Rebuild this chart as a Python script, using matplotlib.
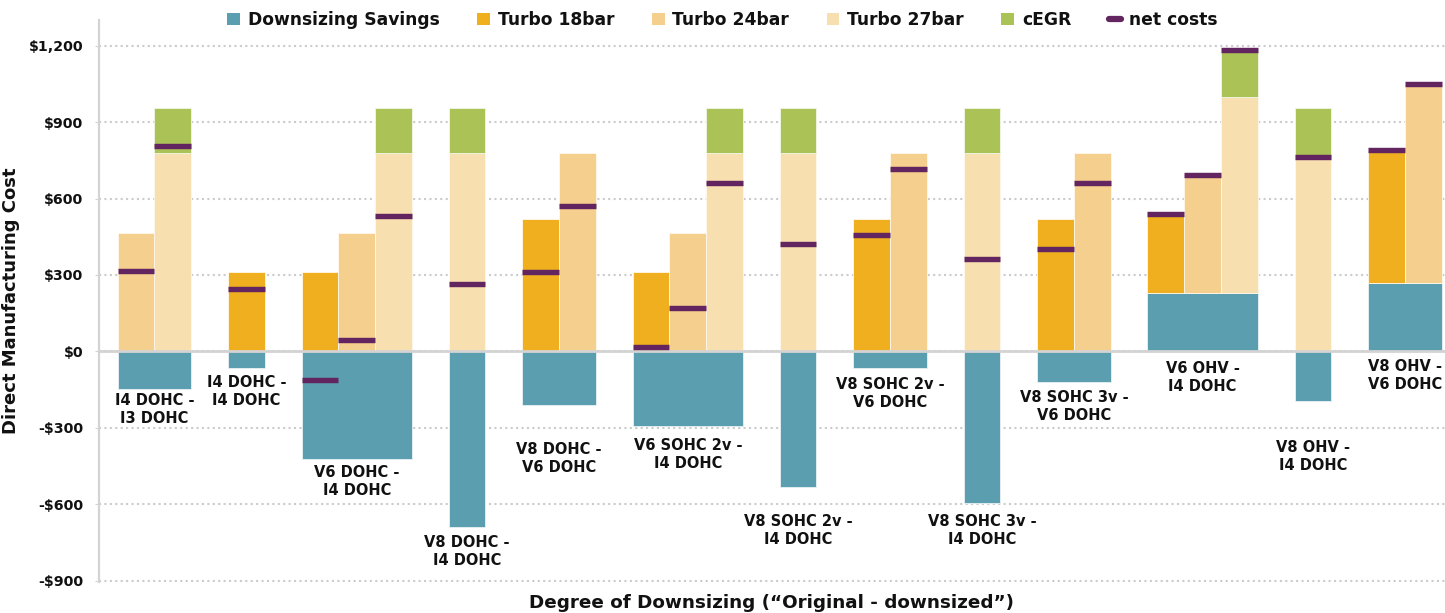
import matplotlib
matplotlib.use("Agg")
import matplotlib.pyplot as plt
from matplotlib.patches import Patch
from matplotlib.lines import Line2D
from matplotlib.ticker import FuncFormatter

# ---------------- data ----------------
groups = ["I4 DOHC -\nI3 DOHC", "I4 DOHC -\nI4 DOHC", "V6 DOHC -\nI4 DOHC",
          "V8 DOHC -\nI4 DOHC", "V8 DOHC -\nV6 DOHC", "V6 SOHC 2v -\nI4 DOHC",
          "V8 SOHC 2v -\nI4 DOHC", "V8 SOHC 2v -\nV6 DOHC", "V8 SOHC 3v -\nI4 DOHC",
          "V8 SOHC 3v -\nV6 DOHC", "V6 OHV -\nI4 DOHC", "V8 OHV -\nI4 DOHC",
          "V8 OHV -\nV6 DOHC"]
savings = [-149, -66, -421, -688, -210, -293, -531, -65, -594, -121, 228, -195, 267]
turbo18 = [None, 310, 310, None, 520, 310, None, 520, None, 520, 310, None, 520]
turbo24 = [465, None, 465, None, 780, 465, None, 780, None, 780, 465, None, 780]
turbo27 = [777, None, 777, 777, None, 777, 777, None, 777, None, 772, 756, None]
cegr = [177, None, 177, 177, None, 177, 177, None, 177, None, 180, 198, None]
net_costs = [[316, 805], [245], [-114, 45, 533], [266], [310, 572],
             [17, 172, 660], [421], [458, 718], [364], [402, 663],
             [538, 694, 1182], [765], [790, 1048]]
label_y = [-229, -158, -509, -787, -422, -405, -702, -165, -702, -216, -101, -414, -96]

series_names = ["Downsizing Savings", "Turbo 18bar", "Turbo 24bar", "Turbo 27bar",
                "cEGR", "net costs"]
yticks = [-900, -600, -300, 0, 300, 600, 900, 1200]

# ---------------- style ----------------
C_SAV = "#5B9EAF"
C_18 = "#EFAF1F"
C_24 = "#F5CF8E"
C_27 = "#F8DFB0"
C_EGR = "#ABC256"
C_NET = "#62255F"
GRID = "#CBCBCB"
AXC = "#D3D3D3"

plt.rcParams['font.family'] = ['DejaVu Sans']
plt.rcParams['font.weight'] = 'bold'

fig = plt.figure(figsize=(14.45, 6.13), dpi=100)
ax = fig.add_axes([98.5 / 1445, 0.0506, 1 - 98.5 / 1445, 0.967 - 0.0506])

slot = 0
for i, g in enumerate(groups):
    bars = [(v, c) for v, c in ((turbo18[i], C_18), (turbo24[i], C_24), (turbo27[i], C_27))
            if v is not None]
    n = len(bars)
    base = max(savings[i], 0)
    ax.bar(slot - 0.5, savings[i], width=n, align='edge', color=C_SAV,
           edgecolor='#EAF3F5', linewidth=0.6, zorder=2)
    for k, (v, c) in enumerate(bars):
        x = slot + k
        ax.bar(x, v, bottom=base, width=1, color=c, edgecolor='#FFF8EC',
               linewidth=0.6, zorder=2)
        if c == C_27 and cegr[i] is not None:
            ax.bar(x, cegr[i], bottom=base + v, width=1, color=C_EGR,
                   edgecolor='#F2F6E6', linewidth=0.6, zorder=2)
        ax.plot([x - 0.5, x + 0.5], [net_costs[i][k]] * 2, color=C_NET, lw=3.9,
                solid_capstyle='butt', zorder=4)
    ax.text(slot + (n - 1) / 2, label_y[i], g, ha='center', va='center',
            fontsize=10.5, fontweight='bold', color='#111111', linespacing=1.25,
            zorder=5)
    slot += n + 1

ax.axhline(0, color=AXC, lw=2.0, zorder=3)
ax.set_xlim(-1.022, 35.59)
ax.set_ylim(-905, 1300)
ax.set_yticks(yticks)
ax.yaxis.set_major_formatter(FuncFormatter(
    lambda v, p: ("-$" if v < 0 else "$") + f"{abs(int(v)):,}"))
ax.set_xticks([])
ax.grid(axis='y', color=GRID, lw=1.5, linestyle=(0, (1, 1.6)), zorder=0)
ax.set_axisbelow(True)
for s in ['top', 'right', 'bottom']:
    ax.spines[s].set_visible(False)
ax.spines['left'].set_color(AXC)
ax.spines['left'].set_linewidth(1.6)
ax.tick_params(axis='y', length=3, color=AXC, pad=8, labelsize=10.2, labelcolor='#111111')
for lab in ax.get_yticklabels():
    lab.set_fontweight('bold')

ax.set_ylabel("Direct Manufacturing Cost", fontsize=13, fontweight='bold', color='#111111')
ax.yaxis.set_label_coords(-78.5 / (1445 - 98.5), 0.5)
ax.set_xlabel("Degree of Downsizing (“Original - downsized”)", fontsize=13.2,
              fontweight='bold', color='#111111')
ax.xaxis.label.set_va('center')
ax.xaxis.set_label_coords(0.5, -(603 - 582) / (582 - 20.2))

handles = [Patch(facecolor=C_SAV), Patch(facecolor=C_18), Patch(facecolor=C_24),
           Patch(facecolor=C_27), Patch(facecolor=C_EGR),
           Line2D([0], [0], color=C_NET, lw=4.5, solid_capstyle='round')]
fig.legend(handles, series_names, loc='center', bbox_to_anchor=(0.5, 1 - 20 / 613),
           ncol=6, frameon=False, prop={'weight': 'bold', 'size': 12.3},
           labelcolor='#111111',
           handlelength=0.75, handleheight=0.75, handletextpad=0.45,
           columnspacing=2.2)

fig.savefig("out.png", dpi=100)
